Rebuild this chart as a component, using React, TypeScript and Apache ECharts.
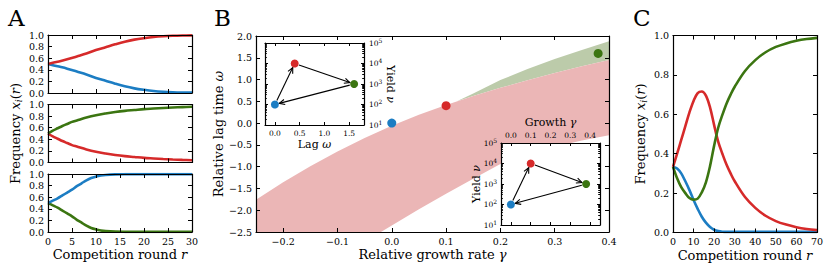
import React, { useEffect, useRef } from 'react';
import * as echarts from 'echarts';

const FONT = 'DejaVu Serif';
const RED = '#d62a2a';
const BLUE = '#1c7dc3';
const GREEN = '#3b7511';
const PINK = '#ebb6b6';
const SAGE = '#bccbaa';

// ---------- Panel A : pairwise competitions ----------
const roundsA1 = [0, 2, 4, 6, 8, 10, 12, 14, 16, 18, 20, 22, 24, 26, 28, 30];
const redA1 = [0.5, 0.54, 0.58, 0.63, 0.68, 0.74, 0.79, 0.84, 0.885, 0.92, 0.945, 0.965, 0.978, 0.986, 0.991, 0.994];
const blueA1 = [0.5, 0.46, 0.42, 0.37, 0.32, 0.26, 0.21, 0.16, 0.115, 0.08, 0.055, 0.035, 0.022, 0.014, 0.009, 0.006];

const roundsA2 = [0, 1, 2, 3, 4, 5, 6, 8, 10, 12, 14, 16, 18, 20, 22, 24, 26, 28, 30];
const greenA2 = [0.5, 0.55, 0.59, 0.63, 0.665, 0.7, 0.725, 0.775, 0.815, 0.845, 0.87, 0.89, 0.905, 0.92, 0.93, 0.94, 0.948, 0.955, 0.96];
const redA2 = [0.5, 0.45, 0.41, 0.37, 0.335, 0.3, 0.275, 0.225, 0.185, 0.155, 0.13, 0.11, 0.095, 0.08, 0.07, 0.06, 0.052, 0.045, 0.04];

const roundsA3 = [0, 1, 2, 3, 4, 5, 6, 7, 8, 9, 10, 11, 12, 14, 16, 20, 25, 30];
const blueA3 = [0.5, 0.54, 0.58, 0.63, 0.68, 0.73, 0.79, 0.84, 0.89, 0.93, 0.955, 0.973, 0.984, 0.994, 0.997, 0.998, 0.998, 0.998];
const greenA3 = [0.5, 0.46, 0.42, 0.37, 0.32, 0.27, 0.21, 0.16, 0.11, 0.07, 0.045, 0.027, 0.016, 0.006, 0.003, 0.002, 0.002, 0.002];

// ---------- Panel C : three-strain competition ----------
const roundsC = [0, 2, 4, 6, 8, 10, 12, 14, 16, 18, 20, 22, 24, 26, 28, 30, 35, 40, 45, 50, 55, 60, 65, 70];
const redC = [0.333, 0.4, 0.47, 0.54, 0.61, 0.668, 0.708, 0.716, 0.695, 0.635, 0.545, 0.46, 0.4, 0.345, 0.3, 0.26, 0.18, 0.125, 0.085, 0.058, 0.04, 0.027, 0.018, 0.012];
const blueC = [0.333, 0.325, 0.3, 0.26, 0.215, 0.165, 0.12, 0.08, 0.05, 0.028, 0.014, 0.007, 0.004, 0.003, 0.003, 0.003, 0.003, 0.003, 0.003, 0.003, 0.003, 0.003, 0.003, 0.003];
const greenC = [0.333, 0.275, 0.23, 0.2, 0.175, 0.167, 0.172, 0.204, 0.255, 0.337, 0.441, 0.533, 0.597, 0.654, 0.7, 0.74, 0.82, 0.875, 0.915, 0.942, 0.96, 0.973, 0.982, 0.988];

// ---------- Panel B : strategies ----------
const strategyColors = [BLUE, RED, GREEN];
const growth = [0, 0.1, 0.38];
const lag = [0, 0.4, 1.6];
const yieldNu = [100, 10000, 1000];
const arrowTo = [1, 2, 0];

const bandX = [-0.25, -0.2, -0.15, -0.1, -0.05, 0, 0.05, 0.1, 0.15, 0.2, 0.25, 0.3, 0.35, 0.4];
const pinkUpper = [-1.76, -1.36, -0.99, -0.65, -0.34, -0.06, 0.19, 0.415, 0.62, 0.81, 0.985, 1.15, 1.305, 1.45];
const lowerX = [-0.02, 0, 0.05, 0.1, 0.15, 0.2, 0.25, 0.3, 0.35, 0.4];
const pinkLower = [-2.5, -2.35, -1.98, -1.62, -1.28, -0.94, -0.72, -0.54, -0.4, -0.28];
const greenX = [0.12, 0.15, 0.2, 0.25, 0.3, 0.35, 0.4];
const greenUpper = [0.5, 0.68, 0.99, 1.24, 1.47, 1.68, 1.88];

// ---------- tick values ----------
const ticksRoundA = [0, 5, 10, 15, 20, 25, 30];
const ticksRoundC = [0, 10, 20, 30, 40, 50, 60, 70];
const ticksFreq = [0, 0.2, 0.4, 0.6, 0.8, 1.0];
const ticksGrowthMain = [-0.2, -0.1, 0, 0.1, 0.2, 0.3, 0.4];
const ticksLagMain = [-2.5, -2, -1.5, -1, -0.5, 0, 0.5, 1, 1.5, 2];
const ticksLagInset = [0, 0.5, 1, 1.5];
const ticksGrowthInset = [0, 0.1, 0.2, 0.3, 0.4];
const ticksYield = [10, 100, 1000, 10000, 100000];
const minorYield: number[] = [];
[10, 100, 1000, 10000].forEach((d) => {
  for (let k = 2; k <= 9; k++) minorYield.push(k * d);
});

const fmtNum = (v: number) => (v < -1e-9 ? '\u2212' : '') + Math.abs(v).toFixed(1);
const fmtPow = (v: number) => '10{p|' + Math.round(Math.log10(v)) + '}';

const rich = (fs: number) => ({
  i: { fontStyle: 'italic', fontFamily: FONT, fontSize: fs, color: '#000' },
  s: { fontStyle: 'italic', fontFamily: FONT, fontSize: Math.round(fs * 0.7), color: '#000', padding: [Math.round(fs * 0.5), 0, 0, 0] },
});

function axis(o: any) {
  const nameFs = o.nameFs || 13;
  const fs = o.fs || 9.5;
  return {
    type: o.type || 'value',
    gridIndex: o.grid,
    position: o.pos,
    min: o.min,
    max: o.max,
    z: o.z ?? 3,
    logBase: 10,
    name: o.name,
    nameLocation: 'middle',
    nameGap: o.nameGap,
    nameRotate: o.nameRotate,
    nameMoveOverlap: false,
    nameTextStyle: { fontFamily: FONT, fontSize: nameFs, color: '#000', rich: rich(nameFs) },
    axisLine: { show: o.line !== false, onZero: false, lineStyle: { color: '#000', width: 1.2 } },
    axisTick: {
      show: true,
      inside: true,
      length: o.tickLen || 4,
      customValues: o.ticks,
      lineStyle: { color: '#000', width: 1 },
    },
    axisLabel: {
      show: !!o.labels,
      customValues: o.ticks,
      margin: o.margin ?? 4,
      fontFamily: FONT,
      fontSize: fs,
      color: '#000',
      formatter: o.fmt || fmtNum,
      hideOverlap: false,
      showMinLabel: true,
      showMaxLabel: true,
      rich: {
        p: { fontFamily: FONT, fontSize: 6, color: '#000', padding: [0, 0, 6, 0] },
      },
    },
    splitLine: { show: false },
    splitArea: { show: false },
    minorTick: { show: false },
    silent: true,
  };
}

const lineSeries = (xi: number, yi: number, xs: number[], ys: number[], color: string) => ({
  type: 'line',
  xAxisIndex: xi,
  yAxisIndex: yi,
  data: xs.map((x, k) => [x, ys[k]]),
  showSymbol: false,
  symbol: 'none',
  smooth: 0.35,
  lineStyle: { color, width: 2.6 },
  itemStyle: { color },
  z: 2,
  silent: true,
});

function arrowSeries(xi: number, yi: number, xs: number[]) {
  return {
    type: 'custom',
    xAxisIndex: xi,
    yAxisIndex: yi,
    z: 7,
    silent: true,
    data: xs.map((x, k) => [x, yieldNu[k]]),
    renderItem: (params: any, api: any) => {
      const i = params.dataIndex;
      const j = arrowTo[i];
      const p1 = api.coord([xs[i], yieldNu[i]]);
      const p2 = api.coord([xs[j], yieldNu[j]]);
      const dx = p2[0] - p1[0];
      const dy = p2[1] - p1[1];
      const L = Math.hypot(dx, dy) || 1;
      const ux = dx / L;
      const uy = dy / L;
      const s = 4.5;
      const a = [p1[0] + ux * s, p1[1] + uy * s];
      const b = [p2[0] - ux * s, p2[1] - uy * s];
      const h = 5.5;
      const w = 2.6;
      const l = [b[0] - ux * h - uy * w, b[1] - uy * h + ux * w];
      const r = [b[0] - ux * h + uy * w, b[1] - uy * h - ux * w];
      return {
        type: 'group',
        children: [
          { type: 'line', shape: { x1: a[0], y1: a[1], x2: b[0], y2: b[1] }, style: { stroke: '#000', lineWidth: 1.1 } },
          { type: 'polyline', shape: { points: [l, b, r] }, style: { stroke: '#000', lineWidth: 1.1, fill: null } },
        ],
      };
    },
  };
}

function scatterSeries(xi: number, yi: number, xs: number[], ys: number[], size: number, z: number) {
  return {
    type: 'scatter',
    xAxisIndex: xi,
    yAxisIndex: yi,
    z,
    silent: true,
    symbolSize: size,
    data: xs.map((x, k) => ({ value: [x, ys[k]], itemStyle: { color: strategyColors[k], opacity: 1 } })),
  };
}

function buildOption() {
  const g = (left: number, top: number, width: number, height: number, extra: any = {}) => ({
    left, top, width, height, containLabel: false, outerBoundsMode: 'none', ...extra,
  });
  const grids = [
    g(48, 35, 144, 58), // A1
    g(48, 104.5, 144, 58), // A2
    g(48, 174, 144, 58), // A3
    g(256, 36, 353, 196), // B
    g(265, 43, 99, 82, { show: true, backgroundColor: '#fff', borderWidth: 0, z: 5 }), // B inset lag
    g(501, 143, 99, 82, { show: true, backgroundColor: '#fff', borderWidth: 0, z: 5 }), // B inset growth
    g(673, 35.5, 144, 197), // C
  ];

  const freqTitle = 'Frequency {i|x}{s|i}({i|r})';
  const roundTitle = 'Competition round {i|r}';

  const xAxis = [
    axis({ grid: 0, pos: 'bottom', min: 0, max: 30, ticks: ticksRoundA }),
    axis({ grid: 0, pos: 'top', min: 0, max: 30, ticks: ticksRoundA }),
    axis({ grid: 1, pos: 'bottom', min: 0, max: 30, ticks: ticksRoundA }),
    axis({ grid: 1, pos: 'top', min: 0, max: 30, ticks: ticksRoundA }),
    axis({ grid: 2, pos: 'bottom', min: 0, max: 30, ticks: ticksRoundA, labels: true, fmt: (v: number) => String(v), name: roundTitle, nameGap: 16 }),
    axis({ grid: 2, pos: 'top', min: 0, max: 30, ticks: ticksRoundA }),
    axis({ grid: 3, pos: 'bottom', min: -0.25, max: 0.4, ticks: ticksGrowthMain, labels: true, name: 'Relative growth rate {i|\u03b3}', nameGap: 16 }),
    axis({ grid: 3, pos: 'top', min: -0.25, max: 0.4, ticks: ticksGrowthMain }),
    axis({ grid: 4, pos: 'bottom', min: -0.2, max: 1.8, ticks: ticksLagInset, labels: true, fs: 7.5, tickLen: 3, z: 6, name: 'Lag {i|\u03c9}', nameFs: 11, nameGap: 14 }),
    axis({ grid: 4, pos: 'top', min: -0.2, max: 1.8, ticks: ticksLagInset, tickLen: 3, z: 6 }),
    axis({ grid: 5, pos: 'top', min: -0.05, max: 0.45, ticks: ticksGrowthInset, labels: true, fs: 7.5, tickLen: 3, z: 6, name: 'Growth {i|\u03b3}', nameFs: 11, nameGap: 15 }),
    axis({ grid: 5, pos: 'bottom', min: -0.05, max: 0.45, ticks: ticksGrowthInset, tickLen: 3, z: 6 }),
    axis({ grid: 6, pos: 'bottom', min: 0, max: 70, ticks: ticksRoundC, labels: true, fmt: (v: number) => String(v), name: roundTitle, nameGap: 16 }),
    axis({ grid: 6, pos: 'top', min: 0, max: 70, ticks: ticksRoundC }),
  ];

  const logInset = (grid: number, pos: string, extra: any) =>
    axis({ grid, pos, type: 'log', min: 10, max: 100000, ticks: ticksYield, tickLen: 3, z: 6, fs: 7.5, fmt: fmtPow, ...extra });

  const yAxis = [
    axis({ grid: 0, pos: 'left', min: 0, max: 1, ticks: ticksFreq, labels: true }),
    axis({ grid: 0, pos: 'right', min: 0, max: 1, ticks: ticksFreq }),
    axis({ grid: 1, pos: 'left', min: 0, max: 1, ticks: ticksFreq, labels: true, name: freqTitle, nameGap: 25 }),
    axis({ grid: 1, pos: 'right', min: 0, max: 1, ticks: ticksFreq }),
    axis({ grid: 2, pos: 'left', min: 0, max: 1, ticks: ticksFreq, labels: true }),
    axis({ grid: 2, pos: 'right', min: 0, max: 1, ticks: ticksFreq }),
    axis({ grid: 3, pos: 'left', min: -2.5, max: 2, ticks: ticksLagMain, labels: true, name: 'Relative lag time {i|\u03c9}', nameGap: 31 }),
    axis({ grid: 3, pos: 'right', min: -2.5, max: 2, ticks: ticksLagMain }),
    logInset(4, 'right', { labels: true, margin: 5, name: 'Yield {i|\u03bd}', nameFs: 11, nameGap: 21, nameRotate: -90 }),
    logInset(4, 'left', {}),
    logInset(5, 'left', { labels: true, margin: 4, name: 'Yield {i|\u03bd}', nameFs: 11, nameGap: 19, nameRotate: 90 }),
    logInset(5, 'right', {}),
    axis({ grid: 6, pos: 'left', min: 0, max: 1, ticks: ticksFreq, labels: true, name: freqTitle, nameGap: 25 }),
    axis({ grid: 6, pos: 'right', min: 0, max: 1, ticks: ticksFreq }),
    logInset(4, 'right', { ticks: minorYield, tickLen: 1.8, line: false }),
    logInset(4, 'left', { ticks: minorYield, tickLen: 1.8, line: false }),
    logInset(5, 'left', { ticks: minorYield, tickLen: 1.8, line: false }),
    logInset(5, 'right', { ticks: minorYield, tickLen: 1.8, line: false }),
  ];

  const pinkPoly: number[][] = [[-0.25, -2.5]];
  bandX.forEach((x, k) => pinkPoly.push([x, pinkUpper[k]]));
  for (let k = lowerX.length - 1; k >= 0; k--) pinkPoly.push([lowerX[k], pinkLower[k]]);

  const sagePoly: number[][] = [];
  greenX.forEach((x, k) => sagePoly.push([x, greenUpper[k]]));
  for (let k = bandX.length - 1; k >= 0; k--) if (bandX[k] >= 0.15) sagePoly.push([bandX[k], pinkUpper[k]]);

  const polySeries = (pts: number[][], fill: string, z: number) => ({
    type: 'custom',
    xAxisIndex: 6,
    yAxisIndex: 6,
    z,
    silent: true,
    clip: true,
    data: [[0, 0]],
    renderItem: (_p: any, api: any) => ({
      type: 'polygon',
      shape: { points: pts.map((p) => api.coord(p)) },
      style: { fill, stroke: null },
    }),
  });

  const series = [
    lineSeries(0, 0, roundsA1, blueA1, BLUE),
    lineSeries(0, 0, roundsA1, redA1, RED),
    lineSeries(2, 2, roundsA2, redA2, RED),
    lineSeries(2, 2, roundsA2, greenA2, GREEN),
    lineSeries(4, 4, roundsA3, greenA3, GREEN),
    lineSeries(4, 4, roundsA3, blueA3, BLUE),
    polySeries(sagePoly, SAGE, 0.5),
    polySeries(pinkPoly, PINK, 1),
    scatterSeries(6, 6, growth, lag, 9, 2),
    arrowSeries(8, 8, lag),
    scatterSeries(8, 8, lag, yieldNu, 8, 8),
    arrowSeries(10, 10, growth),
    scatterSeries(10, 10, growth, yieldNu, 8, 8),
    lineSeries(12, 12, roundsC, blueC, BLUE),
    lineSeries(12, 12, roundsC, redC, RED),
    lineSeries(12, 12, roundsC, greenC, GREEN),
  ];

  const letter = (text: string, left: number) => ({
    type: 'text',
    left,
    top: 6,
    style: { text, fontFamily: FONT, fontSize: 23, fill: '#000' },
  });

  return {
    animation: false,
    backgroundColor: '#fff',
    grid: grids,
    xAxis,
    yAxis,
    series,
    graphic: [letter('A', 8), letter('B', 214), letter('C', 633)],
  };
}

export default function App() {
  const ref = useRef<HTMLDivElement>(null);
  useEffect(() => {
    const chart = echarts.init(ref.current!, undefined, { renderer: 'svg' });
    chart.setOption(buildOption() as any);
    return () => chart.dispose();
  }, []);
  return (
    <div
      ref={ref}
      style={{ position: 'absolute', left: 0, top: 0, width: 831, height: 273, background: '#fff' }}
    />
  );
}
